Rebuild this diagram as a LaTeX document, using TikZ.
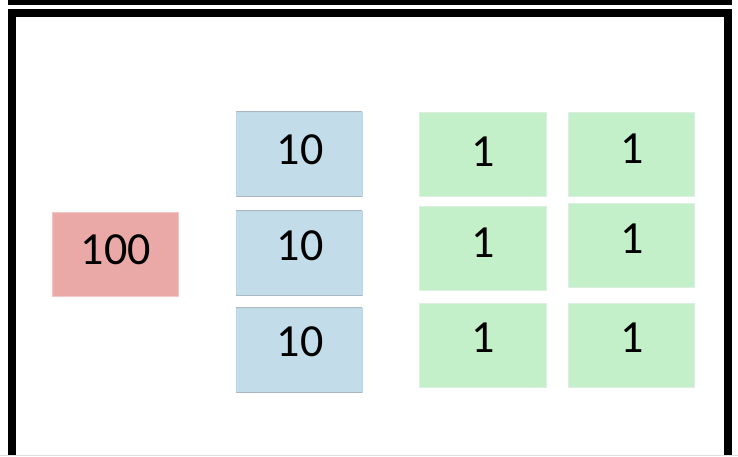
\documentclass[tikz,border=0pt]{standalone}
\usepackage{fontspec}
\setmainfont{Carlito}
\definecolor{redbox}{HTML}{EAA9A7}
\definecolor{redline}{HTML}{F2C8C6}
\definecolor{bluebox}{HTML}{C3DCEA}
\definecolor{blueline}{HTML}{A9B8C2}
\definecolor{greenbox}{HTML}{C3EFC9}
\definecolor{greenline}{HTML}{DDEFE0}
\begin{document}
\begin{tikzpicture}[x=1pt,y=-1pt,
  box/.style={rectangle,inner sep=0pt,minimum width=126pt,minimum height=84pt,line width=0.8pt},
  hund/.style={box,fill=redbox,draw=redline},
  ten/.style={box,fill=bluebox,draw=bluebox!85!blueline},
  one/.style={box,fill=greenbox,draw=greenline,minimum width=127pt},
  edge/.style={blueline,line width=0.8pt},
  lbl/.style={inner sep=0pt,font=\fontsize{46}{50}\selectfont,text=black}]
\useasboundingbox (0,0) rectangle (738,456);
\fill[white] (0,0) rectangle (738,456);
% frame
\fill[black] (8,0) rectangle (732,5.3);
\fill[black] (8,9) rectangle (732,16.7);
\fill[black] (8,9) rectangle (16,456);
\fill[black] (724,9) rectangle (732,456);
\draw[black!12,line width=1pt] (0,455) -- (738,455);
% boxes
\node[hund] (h) at (115,254) {};
\node[ten] (t1) at (299,154) {};
\node[ten] (t2) at (299,253) {};
\node[ten] (t3) at (299,350) {};
\foreach \t in {t1,t2,t3}{
  \draw[edge] (\t.north west) -- (\t.north east);
  \draw[edge] (\t.south west) -- (\t.south east);
}
\node[one] (o11) at (482.5,154.5) {};
\node[one] (o12) at (482.5,248) {};
\node[one] (o13) at (482.5,345.5) {};
\node[one,minimum width=126pt] (o21) at (631,154) {};
\node[one,minimum width=126pt] (o22) at (631,245) {};
\node[one,minimum width=126pt] (o23) at (631,345.5) {};
% labels
\node[lbl] (lh) at (115.8,249.5) {100};
\node[lbl] (lt1) at (300,149.5) {10};
\node[lbl] (lt2) at (300,246) {10};
\node[lbl] (lt3) at (300,342) {10};
\node[lbl] (lo11) at (483,151.5) {1};
\node[lbl] (lo12) at (483,242.5) {1};
\node[lbl] (lo13) at (483,338) {1};
\node[lbl] (lo21) at (631.7,148.5) {1};
\node[lbl] (lo22) at (631.7,239) {1};
\node[lbl] (lo23) at (631.7,338) {1};
\end{tikzpicture}
\end{document}
